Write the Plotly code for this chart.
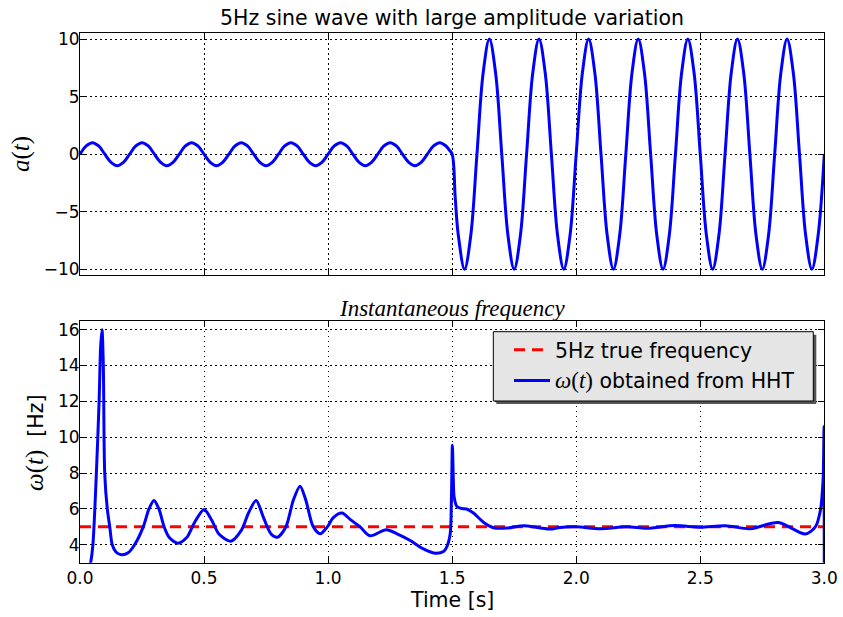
import plotly.graph_objects as go

# top panel: 5 Hz sine, read at every eighth of a period (plus two points around the jump)
T_WAVE = [
    0.000, 0.025, 0.050, 0.075, 0.100, 0.125, 0.150, 0.175, 0.200, 0.225,
    0.250, 0.275, 0.300, 0.325, 0.350, 0.375, 0.400, 0.425, 0.450, 0.475,
    0.500, 0.525, 0.550, 0.575, 0.600, 0.625, 0.650, 0.675, 0.700, 0.725,
    0.750, 0.775, 0.800, 0.825, 0.850, 0.875, 0.900, 0.925, 0.950, 0.975,
    1.000, 1.025, 1.050, 1.075, 1.100, 1.125, 1.150, 1.175, 1.200, 1.225,
    1.250, 1.275, 1.300, 1.325, 1.350, 1.375, 1.400, 1.425, 1.450, 1.475,
    1.4875, 1.500, 1.5125, 1.525, 1.550, 1.575, 1.600, 1.625, 1.650, 1.675,
    1.700, 1.725, 1.750, 1.775, 1.800, 1.825, 1.850, 1.875, 1.900, 1.925,
    1.950, 1.975, 2.000, 2.025, 2.050, 2.075, 2.100, 2.125, 2.150, 2.175,
    2.200, 2.225, 2.250, 2.275, 2.300, 2.325, 2.350, 2.375, 2.400, 2.425,
    2.450, 2.475, 2.500, 2.525, 2.550, 2.575, 2.600, 2.625, 2.650, 2.675,
    2.700, 2.725, 2.750, 2.775, 2.800, 2.825, 2.850, 2.875, 2.900, 2.925,
    2.950, 2.975, 3.000,
]
A_WAVE = [
    0, 0.71, 1, 0.71, 0, -0.71, -1, -0.71,
    0, 0.71, 1, 0.71, 0, -0.71, -1, -0.71,
    0, 0.71, 1, 0.71, 0, -0.71, -1, -0.71,
    0, 0.71, 1, 0.71, 0, -0.71, -1, -0.71,
    0, 0.71, 1, 0.71, 0, -0.71, -1, -0.71,
    0, 0.71, 1, 0.71, 0, -0.71, -1, -0.71,
    0, 0.71, 1, 0.71, 0, -0.71, -1, -0.71,
    0, 0.71, 1, 0.71, 0.38,
    0, -3.83, -7.07, -10, -7.07, 0, 7.07, 10, 7.07,
    0, -7.07, -10, -7.07, 0, 7.07, 10, 7.07,
    0, -7.07, -10, -7.07, 0, 7.07, 10, 7.07,
    0, -7.07, -10, -7.07, 0, 7.07, 10, 7.07,
    0, -7.07, -10, -7.07, 0, 7.07, 10, 7.07,
    0, -7.07, -10, -7.07, 0, 7.07, 10, 7.07,
    0, -7.07, -10, -7.07, 0, 7.07, 10, 7.07,
    0, -7.07, -10, -7.07, 0,
]

# bottom panel: instantaneous frequency from HHT
T_FREQ = [
    0.000, 0.043, 0.052, 0.066, 0.077, 0.083, 0.0887, 0.094, 0.0996, 0.110,
    0.120, 0.130, 0.145, 0.167, 0.194, 0.220, 0.255, 0.278, 0.298, 0.318,
    0.339, 0.360, 0.395, 0.430, 0.460, 0.500, 0.530, 0.560, 0.608, 0.650,
    0.680, 0.710, 0.740, 0.770, 0.796, 0.830, 0.860, 0.887, 0.910, 0.940,
    0.968, 0.997, 1.020, 1.056, 1.090, 1.129, 1.169, 1.234, 1.280, 1.331,
    1.380, 1.431, 1.465, 1.478, 1.492, 1.497, 1.501, 1.505, 1.508, 1.519,
    1.540, 1.560, 1.586, 1.626, 1.667, 1.720, 1.788, 1.850, 1.895, 1.935,
    2.000, 2.097, 2.204, 2.285, 2.399, 2.500, 2.601, 2.702, 2.815, 2.923,
    2.964, 2.984, 2.995, 2.999, 3.000,
]
W_FREQ = [
    0.5, 3.0, 4.0, 8.0, 12.0, 15.0, 16.0, 14.0, 8.0, 6.0,
    5.0, 4.0, 3.6, 3.44, 3.55, 4.0, 5.0, 6.0, 6.47, 6.0,
    5.0, 4.4, 4.09, 4.4, 5.2, 5.97, 5.4, 4.6, 4.2, 4.8,
    5.8, 6.47, 5.5, 4.6, 4.42, 5.0, 6.5, 7.27, 6.5, 5.0,
    4.61, 5.0, 5.5, 5.77, 5.4, 5.0, 4.5, 4.84, 4.6, 4.24,
    3.8, 3.53, 3.62, 3.87, 4.6, 6.5, 9.55, 7.5, 6.66, 6.14,
    6.02, 5.98, 5.77, 5.26, 4.95, 4.93, 5.06, 4.95, 4.88, 4.97,
    5.0, 4.9, 5.0, 4.92, 5.07, 4.98, 5.06, 4.9, 5.24, 4.6,
    5.0, 5.9, 7.6, 10.6, 1.0,
]

T_TRUE = [0.0, 3.0]
W_TRUE = [5.0, 5.0]

X_TICKS = [0.0, 0.5, 1.0, 1.5, 2.0, 2.5, 3.0]
A_TICKS = [-10, -5, 0, 5, 10]
W_TICKS = [4, 6, 8, 10, 12, 14, 16]

SANS = "DejaVu Sans"
SERIF = "Liberation Serif"
W, H = 843, 617
BIG = 20.5


def px_x(p):
    return p / W


def px_y(p):
    return 1 - p / H


fig = go.Figure()
fig.add_trace(go.Scatter(
    x=T_WAVE, y=A_WAVE, mode="lines", xaxis="x", yaxis="y",
    line=dict(color="#0000ff", width=3, shape="spline"),
    showlegend=False,
))
fig.add_trace(go.Scatter(
    x=T_TRUE, y=W_TRUE, mode="lines", xaxis="x2", yaxis="y2",
    line=dict(color="#ff0000", width=3, dash="11px,7px"),
    name="5Hz true frequency", legendgroup="a",
))
fig.add_trace(go.Scatter(
    x=T_FREQ, y=W_FREQ, mode="lines", xaxis="x2", yaxis="y2",
    line=dict(color="#0000ff", width=3, shape="spline", smoothing=0.8),
    name=f'<span style="font-family:{SERIF};font-size:23px"><i>ω</i>(<i>t</i>)</span> obtained from HHT',
    legendgroup="b",
))

ax = dict(
    showline=True, linecolor="black", linewidth=1, mirror="ticks",
    ticks="inside", ticklen=6, tickcolor="black", tickwidth=1,
    showgrid=True, gridcolor="black", gridwidth=1, griddash="1.5px,3.5px",
    zeroline=False, automargin=False,
    tickfont=dict(family=SANS, size=17, color="black"),
)
xdom = [px_x(80), px_x(824.3)]
fig.update_layout(
    width=W, height=H,
    margin=dict(l=0, r=0, t=0, b=0, autoexpand=False),
    paper_bgcolor="white", plot_bgcolor="white",
    xaxis=dict(ax, domain=xdom, range=[0, 3], tickvals=X_TICKS,
               showticklabels=False, anchor="y"),
    yaxis=dict(ax, domain=[px_y(275), px_y(33.3)], range=[-10.5, 10.5],
               tickvals=A_TICKS, anchor="x", ticklabelstandoff=-4),
    xaxis2=dict(ax, domain=xdom, range=[0, 3], tickvals=X_TICKS,
                tickformat=".1f", anchor="y2"),
    yaxis2=dict(ax, domain=[px_y(562.7), px_y(320.7)], range=[3, 16.5],
                tickvals=W_TICKS, anchor="x2", ticklabelstandoff=-4),
    showlegend=True,
    legend=dict(
        x=px_x(509), y=px_y(330), xanchor="left", yanchor="top",
        bgcolor="rgba(0,0,0,0)", borderwidth=0,
        font=dict(family=SANS, size=BIG, color="black"),
        tracegroupgap=1, traceorder="grouped", itemwidth=36,
    ),
)

# legend frame with a drop shadow, like the classic matplotlib style
box = (493.3, 331.7, 813.3, 401)
fig.add_shape(type="rect", xref="paper", yref="paper",
              x0=px_x(box[0] + 3), x1=px_x(box[2] + 3),
              y0=px_y(box[3] + 3), y1=px_y(box[1] + 3),
              fillcolor="#555555", line=dict(width=0), layer="above")
fig.add_shape(type="rect", xref="paper", yref="paper",
              x0=px_x(box[0]), x1=px_x(box[2]),
              y0=px_y(box[3]), y1=px_y(box[1]),
              fillcolor="#e5e5e5", line=dict(color="black", width=1), layer="above")

notes = [
    dict(text="5Hz sine wave with large amplitude variation", x=px_x(452), y=px_y(18),
         font=dict(family=SANS, size=BIG)),
    dict(text="<i>Instantaneous frequency</i>", x=px_x(452), y=px_y(308),
         font=dict(family=SERIF, size=23)),
    dict(text="Time [s]", x=px_x(452), y=px_y(600), font=dict(family=SANS, size=BIG)),
    dict(text="<i>a</i>(<i>t</i>)", x=px_x(21), y=px_y(154), textangle=-90,
         font=dict(family=SERIF, size=25)),
    dict(text=f'<span style="font-family:{SERIF};font-size:25px"><i>ω</i>(<i>t</i>)</span>  [Hz]',
         x=px_x(35), y=px_y(443), textangle=-90, font=dict(family=SANS, size=BIG)),
]
for n in notes:
    n["font"]["color"] = "black"
    fig.add_annotation(xref="paper", yref="paper", showarrow=False,
                       xanchor="center", yanchor="middle", **n)

fig.write_html(
    "out.html",
    config={"displayModeBar": False},
    post_script="document.body.style.margin='0';document.body.style.overflow='hidden';",
)
